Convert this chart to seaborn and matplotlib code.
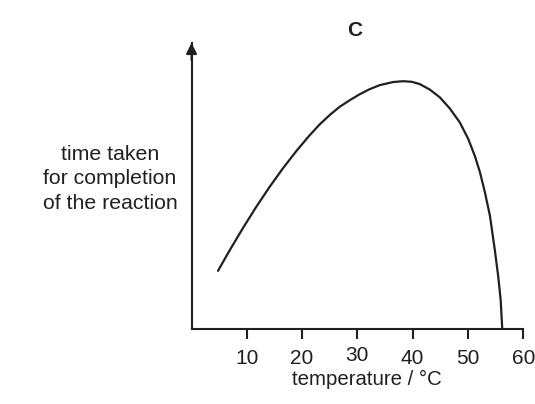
import numpy as np
import seaborn as sns
import matplotlib.pyplot as plt
from matplotlib.transforms import ScaledTranslation

# points (temperature in °C, time in arbitrary units 0-100)
temperature = [4.79, 6.79, 9.20, 11.63, 14.05, 16.46, 18.95, 21.31, 23.12,
               24.94, 26.75, 28.57, 30.38, 32.20, 34.01, 36.42, 38.24, 39.82,
               41.27, 43.08, 44.90, 46.71, 48.53, 50.04, 51.25, 52.16, 53.07,
               53.98, 54.88, 55.48, 55.92, 56.21]
time_taken = [20.4, 27.2, 35.0, 42.5, 49.5, 56.0, 62.2, 67.6, 71.4,
              74.7, 77.6, 79.9, 82.0, 83.8, 85.2, 86.3, 86.6, 86.4,
              85.6, 83.7, 81.0, 77.1, 72.2, 66.5, 60.5, 54.9, 47.8,
              39.6, 27.4, 18.4, 10.2, 0.0]
xticks = [10, 20, 30, 40, 50, 60]

ink = '#231f20'

sns.set_style('white')
plt.rcParams['font.family'] = ['Liberation Sans', 'DejaVu Sans']

fig = plt.figure(figsize=(5.35, 4.04), dpi=100)
ax = fig.add_axes([0.358, 0.185, 0.620, 0.709])

sns.lineplot(x=temperature, y=time_taken, sort=False, estimator=None,
             color=ink, linewidth=1.6, ax=ax)
ax.lines[0].set_solid_joinstyle('round')
ax.lines[0].set_solid_capstyle('round')

ax.set_xlim(0, 60)
ax.set_ylim(0, 100)
ax.set_xticks(xticks)
ax.set_xticklabels([str(t) for t in xticks])
ax.set_yticks([])
ax.tick_params(axis='x', bottom=True, direction='out', length=7.5, width=1.5,
               color=ink, pad=7, labelsize=15, labelcolor=ink)

for side in ['top', 'right']:
    ax.spines[side].set_visible(False)
for side in ['left', 'bottom']:
    ax.spines[side].set_linewidth(1.5)
    ax.spines[side].set_color(ink)
    ax.spines[side].set_zorder(3)

# arrow head on the y axis
ax.annotate('', xy=(0, 1.0), xytext=(0, 0.94), xycoords='axes fraction',
            arrowprops=dict(arrowstyle='-|>', color=ink, lw=1.5,
                            mutation_scale=16, shrinkA=0, shrinkB=0),
            annotation_clip=False)

# the "30" label sits a little higher in the original
lab = ax.get_xticklabels()[2]
lab.set_transform(lab.get_transform() + ScaledTranslation(0, 3 / 100, fig.dpi_scale_trans))

ax.text(0.528, -0.177, 'temperature / °C', transform=ax.transAxes,
        ha='center', va='center', fontsize=14.7, color=ink)

fig.text(110 / 535, 1 - 179 / 404, 'time taken\nfor completion\nof the reaction',
         ha='center', va='center', multialignment='center', fontsize=15.3,
         color=ink, linespacing=1.36)

fig.text(355 / 535, 1 - 30 / 404, 'C', ha='center', va='center',
         fontsize=15, fontweight='bold', color=ink)

fig.savefig('out.png', dpi=100)
